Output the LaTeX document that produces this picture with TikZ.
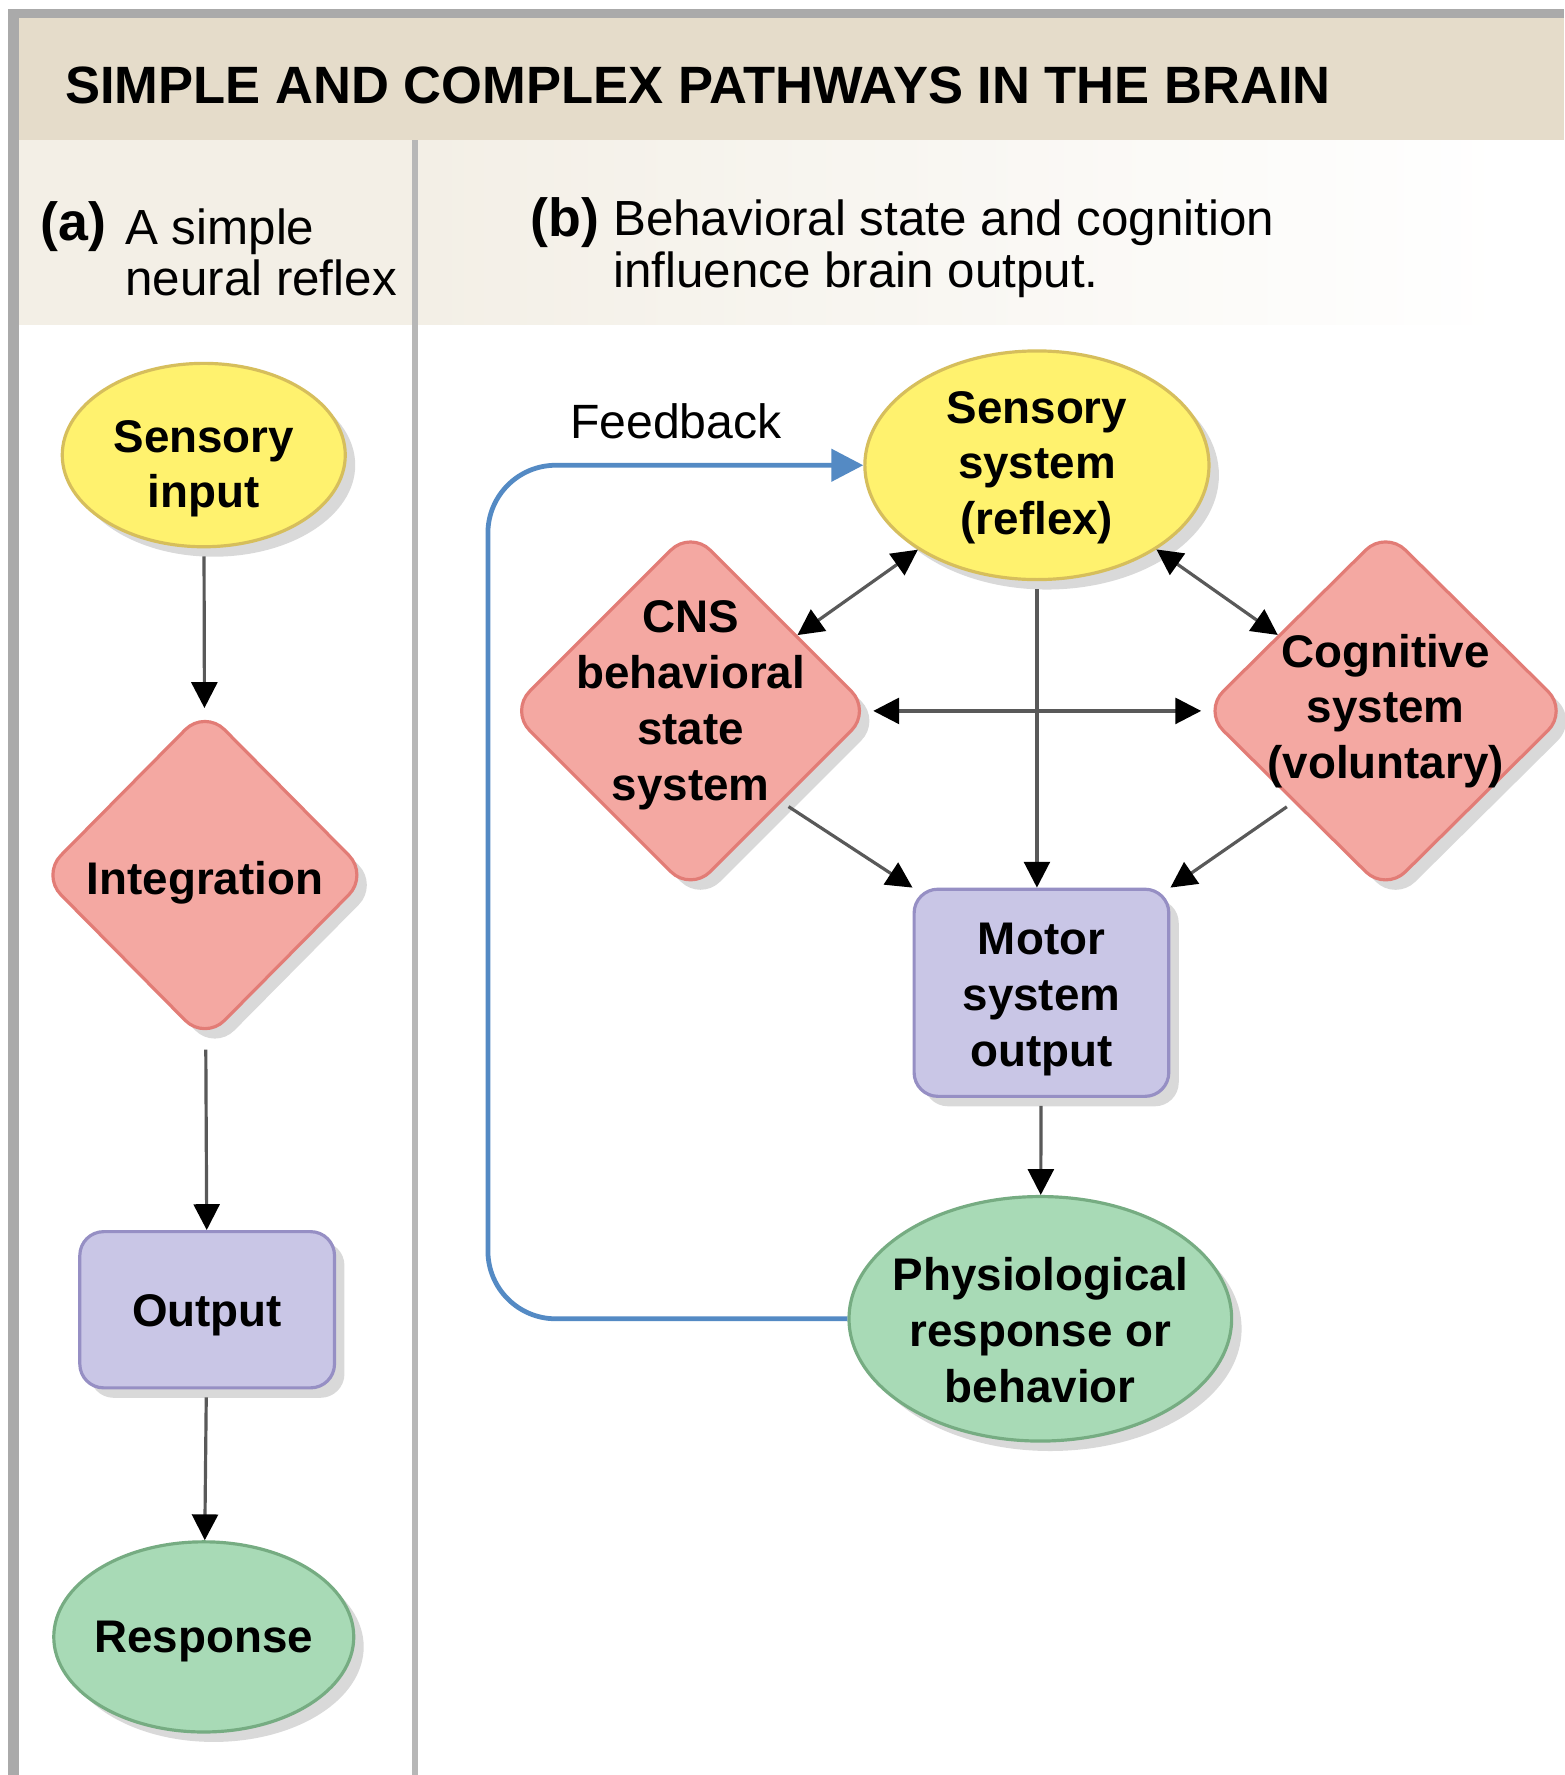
\documentclass[tikz,border=0pt]{standalone}
\usepackage{fontspec}
\setmainfont{Liberation Sans}
\usetikzlibrary{positioning,shapes.geometric,arrows.meta,shadows,calc}
\definecolor{myframe}{RGB}{170,170,170}
\definecolor{mytitle}{RGB}{229,220,202}
\definecolor{myhead}{RGB}{243,239,230}
\definecolor{myyellow}{RGB}{255,242,110}
\definecolor{myyellowdk}{RGB}{214,190,92}
\definecolor{mypink}{RGB}{244,168,162}
\definecolor{mypinkdk}{RGB}{226,124,118}
\definecolor{mypurple}{RGB}{201,198,230}
\definecolor{mypurpledk}{RGB}{150,143,196}
\definecolor{mygreen}{RGB}{168,218,182}
\definecolor{mygreendk}{RGB}{118,172,130}
\definecolor{myblue}{RGB}{84,138,196}

\begin{document}
\begin{tikzpicture}[
  tag/.style={align=center,inner sep=0pt,font=\fontsize{11.5}{14}\selectfont\bfseries},
  head/.style={align=left,inner sep=0pt,font=\fontsize{12.4}{13}\selectfont},
  shadowed/.style={drop shadow={shadow xshift=2.5pt,shadow yshift=-2.5pt,opacity=0.15,fill=black}},
  ynode/.style={ellipse,draw=myyellowdk,fill=myyellow,line width=0.8pt,inner sep=0pt,shadowed},
  dnode/.style={diamond,draw=mypinkdk,fill=mypink,line width=0.8pt,inner sep=0pt,rounded corners=7pt,shadowed},
  pnode/.style={rectangle,draw=mypurpledk,fill=mypurple,line width=0.8pt,inner sep=0pt,rounded corners=6pt,shadowed},
  gnode/.style={ellipse,draw=mygreendk,fill=mygreen,line width=0.8pt,inner sep=0pt,shadowed},
  arr/.style={draw=black!65,line width=0.8pt},
  fb/.style={draw=myblue,line width=1.2pt,rounded corners=0.6cm,-{Triangle[length=8pt,width=8pt]}},
  >={Triangle[length=6.5pt,width=6.5pt,color=black]}
]
\useasboundingbox (0,0) rectangle (13.82,-15.68);

% the frame and the bands
\fill[white] (0,0) rectangle (13.82,-15.68);
\fill[mytitle] (0.16,-0.16) rectangle (13.82,-1.24);
\fill[myhead] (0.16,-1.24) rectangle (3.64,-2.87);
\shade[left color=myhead,right color=white] (3.69,-1.24) rectangle (13.3,-2.87);
\fill[myframe] (0.07,-0.08) rectangle (13.82,-0.16);
\fill[myframe] (0.07,-0.08) rectangle (0.17,-15.68);
\draw[myframe!85,line width=1.4pt] (3.665,-1.24) -- (3.665,-15.68);

% the headings
\node[anchor=base west,inner sep=0pt,font=\fontsize{13.2}{16}\selectfont\bfseries] (title)
  at (0.57,-0.915) {SIMPLE AND COMPLEX PATHWAYS IN THE BRAIN};
\node[head,anchor=west,font=\fontsize{13.5}{14}\selectfont\bfseries] (tagA) at (0.35,-2.00) {(a)};
\node[head,anchor=west] (headA) at (1.10,-2.23) {A simple\\neural reflex};
\node[head,anchor=west,font=\fontsize{13.5}{14}\selectfont\bfseries] (tagB) at (4.68,-1.97) {(b)};
\node[head,anchor=west] (headB) at (5.41,-2.20) {Behavioral state and cognition\\influence brain output.};

% the simple reflex
\node[ynode,minimum width=2.5cm,minimum height=1.62cm,
  label={[tag,yshift=-0.12cm]center:{Sensory\\input}}] (sin) at (1.80,-4.02) {};
\node[dnode,minimum width=2.9cm,minimum height=2.93cm,
  label={[tag,yshift=-0.07cm]center:Integration}] (integ) at (1.81,-7.73) {};
\node[pnode,minimum width=2.25cm,minimum height=1.38cm,
  label={[tag,yshift=-0.05cm]center:Output}] (outp) at (1.83,-11.57) {};
\node[gnode,minimum width=2.65cm,minimum height=1.68cm,
  label={[tag,yshift=-0.04cm]center:Response}] (resp) at (1.80,-14.46) {};

% the complex pathways
\node[ynode,minimum width=3.04cm,minimum height=2.02cm,
  label={[tag,yshift=-0.02cm]center:{Sensory\\system\\(reflex)}}] (sens) at (9.16,-4.11) {};
\node[dnode,minimum width=3.2cm,minimum height=3.2cm,
  label={[tag,yshift=0.05cm]center:{CNS\\behavioral\\state\\system}}] (cns) at (6.10,-6.28) {};
\node[dnode,minimum width=3.23cm,minimum height=3.2cm,
  label={[tag]center:{Cognitive\\system\\(voluntary)}}] (cog) at (12.24,-6.28) {};
\node[pnode,minimum width=2.25cm,minimum height=1.83cm,
  label={[tag,yshift=-0.06cm]center:{Motor\\system\\output}}] (motor) at (9.20,-8.77) {};
\node[gnode,minimum width=3.38cm,minimum height=2.16cm,
  label={[tag,yshift=-0.1cm]center:{Physiological\\response or\\behavior}}] (phys) at (9.19,-11.65) {};

\coordinate (fbturn) at (4.31,-11.71);
\node[head,font=\fontsize{12.1}{14}\selectfont] (fblabel) at (5.97,-3.72) {Feedback};

% the arrows of (a)
\draw[arr,->,shorten <=2pt] (sin) -- (integ);
\draw[arr,->,shorten <=2pt] (integ) -- (outp);
\draw[arr,->,shorten <=2pt] (outp) -- (resp);

% the arrows of (b)
\draw[arr,<->] (sens) -- (cns);
\draw[arr,<->] (sens) -- (cog);
\draw[arr,<->] (cns) -- (cog);
\draw[arr,->,shorten <=2pt] (sens) -- (sens |- motor.north);
\draw[arr,->,shorten <=2pt] (cns.south east) -- (motor.north west);
\draw[arr,->,shorten <=2pt] (cog.south west) -- (motor.north east);
\draw[arr,->,shorten <=2pt] (motor) -- (phys);

% the feedback loop
\draw[fb] (phys) -- (phys -| fbturn) |- (sens.west);
\end{tikzpicture}
\end{document}
